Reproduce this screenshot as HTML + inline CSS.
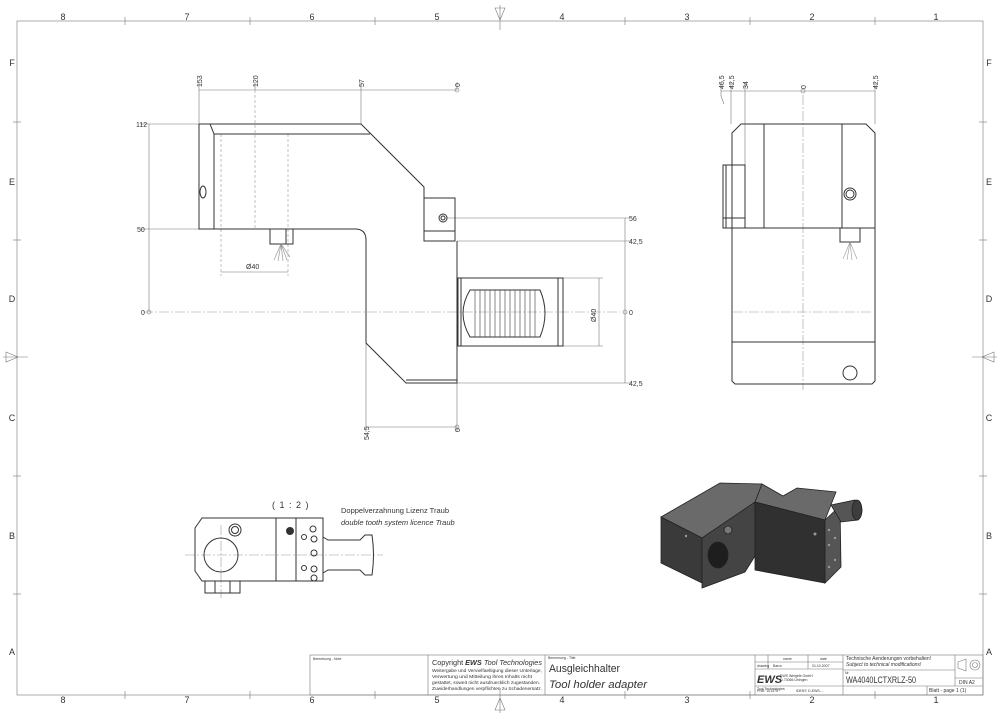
<!DOCTYPE html>
<html><head><meta charset="utf-8"><style>
html,body{margin:0;padding:0;background:#fff;}
svg{display:block;font-family:"Liberation Sans",sans-serif;}
.l{stroke:#333;stroke-width:1;fill:none}
.t{stroke:#777;stroke-width:.6;fill:none}
.c{stroke:#999;stroke-width:.6;fill:none;stroke-dasharray:10 2 2 2}
.d{stroke:#999;stroke-width:.6;fill:none;stroke-dasharray:3 2}
text{fill:#333}
.s{font-size:7px}
</style></head><body>
<svg width="1000" height="715" viewBox="0 0 1000 715">
<!-- frame -->
<rect x="17" y="21" width="966" height="674" class="t" stroke="#666"/>
<g class="t">
<line x1="125" y1="17" x2="125" y2="25"/><line x1="250" y1="17" x2="250" y2="25"/><line x1="375" y1="17" x2="375" y2="25"/><line x1="625" y1="17" x2="625" y2="25"/><line x1="750" y1="17" x2="750" y2="25"/><line x1="875" y1="17" x2="875" y2="25"/>
<line x1="125" y1="691" x2="125" y2="699"/><line x1="250" y1="691" x2="250" y2="699"/><line x1="375" y1="691" x2="375" y2="699"/><line x1="625" y1="691" x2="625" y2="699"/><line x1="750" y1="691" x2="750" y2="699"/><line x1="875" y1="691" x2="875" y2="699"/>
<line x1="13" y1="122" x2="21" y2="122"/><line x1="13" y1="240" x2="21" y2="240"/><line x1="13" y1="476" x2="21" y2="476"/><line x1="13" y1="594" x2="21" y2="594"/>
<line x1="979" y1="122" x2="987" y2="122"/><line x1="979" y1="240" x2="987" y2="240"/><line x1="979" y1="476" x2="987" y2="476"/><line x1="979" y1="594" x2="987" y2="594"/>
<path d="M500 5 V30 M495 8 L500 20 L505 8 Z"/><path d="M500 713 V688 M495 710 L500 698 L505 710 Z"/>
<path d="M3 357 H28 M6 352 L18 357 L6 362 Z"/><path d="M997 357 H972 M994 352 L982 357 L994 362 Z"/>
</g>
<g font-size="9" fill="#555" text-anchor="middle">
<text x="63" y="20">8</text><text x="187" y="20">7</text><text x="312" y="20">6</text><text x="437" y="20">5</text><text x="562" y="20">4</text><text x="687" y="20">3</text><text x="812" y="20">2</text><text x="936" y="20">1</text>
<text x="63" y="703">8</text><text x="187" y="703">7</text><text x="312" y="703">6</text><text x="437" y="703">5</text><text x="562" y="703">4</text><text x="687" y="703">3</text><text x="812" y="703">2</text><text x="936" y="703">1</text>
<text x="12" y="66">F</text><text x="12" y="185">E</text><text x="12" y="302">D</text><text x="12" y="421">C</text><text x="12" y="539">B</text><text x="12" y="655">A</text>
<text x="989" y="66">F</text><text x="989" y="185">E</text><text x="989" y="302">D</text><text x="989" y="421">C</text><text x="989" y="539">B</text><text x="989" y="655">A</text>
</g>

<!-- FRONT VIEW -->
<g class="t">
<line x1="199" y1="90" x2="457" y2="90"/>
<line x1="199" y1="82" x2="199" y2="124"/><line x1="255" y1="82" x2="255" y2="90"/><line x1="361" y1="82" x2="361" y2="124"/><line x1="457" y1="82" x2="457" y2="90"/>
<line x1="149" y1="124" x2="149" y2="312"/>
<line x1="140" y1="124" x2="210" y2="124"/><line x1="140" y1="229" x2="199" y2="229"/>
<line x1="625" y1="218" x2="625" y2="383"/>
<line x1="447" y1="218" x2="630" y2="218"/><line x1="457" y1="241" x2="630" y2="241"/><line x1="457" y1="383" x2="630" y2="383"/>
<line x1="563" y1="278" x2="603" y2="278"/><line x1="563" y1="346" x2="603" y2="346"/><line x1="599" y1="278" x2="599" y2="346"/>
<line x1="366" y1="343" x2="366" y2="432"/><line x1="457" y1="383" x2="457" y2="432"/><line x1="366" y1="427" x2="457" y2="427"/>
<line x1="221" y1="272" x2="288" y2="272"/>
</g>
<circle cx="457" cy="90" r="2" class="t"/><circle cx="149" cy="312" r="2" class="t"/><circle cx="625" cy="312" r="2" class="t"/><circle cx="457" cy="427" r="2" class="t"/>
<g class="d"><line x1="221" y1="134" x2="221" y2="276"/><line x1="288" y1="134" x2="288" y2="276"/><line x1="255" y1="90" x2="255" y2="230"/></g>
<line x1="143" y1="312" x2="620" y2="312" class="c"/>
<g class="l">
<path d="M199 124 H361 L424 187 V198 M199 124 V229 H355 Q366 229 366 240 V343 L406 383 H457 V241"/>
<path d="M210 124 L214 134 V229 M214 134 H370"/>
<rect x="424" y="198" width="31" height="43"/><line x1="424" y1="231" x2="455" y2="231"/>
<circle cx="443" cy="218" r="4"/><circle cx="443" cy="218" r="2"/>
<ellipse cx="203" cy="192" rx="3" ry="6"/>
<line x1="406" y1="380" x2="457" y2="380"/>
<rect x="270" y="229" width="23" height="15"/><line x1="286" y1="229" x2="286" y2="244"/>
<rect x="458" y="278" width="105" height="68"/><line x1="558" y1="278" x2="558" y2="346"/><line x1="461" y1="278" x2="461" y2="346"/>
<path d="M470 290 H540 Q550 313 540 337 H470 Q456 313 470 290 Z"/>
</g>
<g stroke="#555" stroke-width=".7">
<line x1="475" y1="290" x2="475" y2="337"/><line x1="480" y1="290" x2="480" y2="337"/><line x1="485" y1="290" x2="485" y2="337"/><line x1="490" y1="290" x2="490" y2="337"/><line x1="495" y1="290" x2="495" y2="337"/><line x1="500" y1="290" x2="500" y2="337"/><line x1="505" y1="290" x2="505" y2="337"/><line x1="510" y1="290" x2="510" y2="337"/><line x1="515" y1="290" x2="515" y2="337"/><line x1="520" y1="290" x2="520" y2="337"/><line x1="525" y1="290" x2="525" y2="337"/><line x1="530" y1="290" x2="530" y2="337"/><line x1="535" y1="290" x2="535" y2="337"/>
<path d="M281 244 L274 260 M281 244 L278 261 M281 244 L283 261 M281 244 L287 260 M281 244 L290 257" stroke="#999"/>
</g>
<g class="s">
<text transform="translate(202,87) rotate(-90)">153</text><text transform="translate(258,87) rotate(-90)">120</text><text transform="translate(364,87) rotate(-90)">57</text><text transform="translate(460,87) rotate(-90)">0</text>
<text x="136" y="127">112</text><text x="137" y="232">50</text><text x="141" y="315">0</text>
<text x="629" y="221">56</text><text x="629" y="244">42,5</text><text x="629" y="315">0</text><text x="629" y="386">42,5</text>
<text x="246" y="269">Ø40</text><text transform="translate(596,322) rotate(-90)">Ø40</text>
<text transform="translate(369,440) rotate(-90)">54,5</text><text transform="translate(460,432) rotate(-90)">0</text>
</g>

<!-- RIGHT VIEW -->
<g class="t">
<line x1="721" y1="91" x2="875" y2="91"/>
<line x1="721" y1="82" x2="721" y2="96"/><line x1="721" y1="96" x2="724" y2="104"/><line x1="731" y1="82" x2="731" y2="124"/><line x1="745" y1="82" x2="745" y2="165"/><line x1="875" y1="82" x2="875" y2="124"/>
</g>
<circle cx="803" cy="91" r="2" class="t"/>
<g class="s">
<text transform="translate(724,89) rotate(-90)">46,5</text><text transform="translate(734,89) rotate(-90)">42,5</text><text transform="translate(748,89) rotate(-90)">34</text><text transform="translate(806,89) rotate(-90)">0</text><text transform="translate(878,89) rotate(-90)">42,5</text>
</g>
<line x1="803" y1="95" x2="803" y2="390" class="c"/>
<line x1="733" y1="312" x2="873" y2="312" class="c"/>
<g class="l">
<path d="M741 124 H866 L875 133 V381 L872 384 H735 L732 381 V133 Z"/>
<line x1="764" y1="124" x2="764" y2="228"/><line x1="842" y1="124" x2="842" y2="228"/><line x1="732" y1="228" x2="875" y2="228"/>
<rect x="723" y="165" width="22" height="63"/><line x1="723" y1="218" x2="745" y2="218"/><line x1="726" y1="165" x2="726" y2="228"/>
<circle cx="850" cy="194" r="6"/><circle cx="850" cy="194" r="4"/>
<rect x="840" y="228" width="20" height="14"/>
<line x1="732" y1="342" x2="875" y2="342"/>
<circle cx="850" cy="373" r="7"/>
</g>
<path d="M850 242 L843 259 M850 242 L847 260 M850 242 L852 260 M850 242 L857 259" stroke="#999" stroke-width=".6"/>

<!-- BOTTOM LEFT VIEW -->
<text x="272" y="508" font-size="9" letter-spacing="1">( 1 : 2 )</text>
<text x="341" y="513" font-size="7.5">Doppelverzahnung Lizenz Traub</text>
<text x="341" y="525" font-size="7.5" font-style="italic">double tooth system licence Traub</text>
<line x1="185" y1="555" x2="383" y2="555" class="c"/>
<line x1="221" y1="525" x2="221" y2="598" class="c"/>
<g class="l">
<path d="M202 518 H323 V581 H202 L195 571 V528 Z"/>
<line x1="276" y1="518" x2="276" y2="581"/><line x1="296" y1="518" x2="296" y2="581"/>
<circle cx="221" cy="555" r="17"/>
<circle cx="235" cy="530" r="6"/><circle cx="235" cy="530" r="3.5"/>
<circle cx="290" cy="531" r="3.5" fill="#333"/>
<circle cx="313" cy="529" r="3"/><circle cx="304" cy="537" r="2.5"/><circle cx="314" cy="539" r="3"/><circle cx="314" cy="553" r="3"/><circle cx="304" cy="568" r="2.5"/><circle cx="314" cy="569" r="3"/><circle cx="314" cy="578" r="3"/>
<path d="M323 537 L328 540 H360 L365 535 H372 Q375 555 372 575 H365 L360 570 H328 L323 573"/>
<rect x="205" y="581" width="35" height="12"/><line x1="215" y1="581" x2="215" y2="593"/><line x1="230" y1="581" x2="230" y2="593"/>
</g>

<!-- ISO VIEW -->
<g stroke="#222" stroke-width=".8">
<polygon points="661,517 720,483 762,484 760,505 702,538" fill="#6a6a6a"/>
<polygon points="762,484 783,496 797,488 836,492 825,520 755,502" fill="#6a6a6a"/>
<polygon points="661,517 702,538 702,583 661,563" fill="#3a3a3a"/>
<polygon points="702,538 755,502 755,556 745,572 702,588" fill="#444"/>
<polygon points="755,502 825,520 825,583 755,570" fill="#303030"/>
<polygon points="825,520 840,506 841,567 825,583" fill="#555"/>
<polygon points="831,505 855,500 862,510 858,520 841,522" fill="#555"/>
<ellipse cx="857" cy="510" rx="5" ry="10" fill="#3d3d3d"/>
<ellipse cx="718" cy="555" rx="10" ry="13" fill="#1e1e1e"/>
<circle cx="728" cy="530" r="4" fill="#777"/>
</g>
<g fill="#999"><circle cx="829" cy="530" r="1.2"/><circle cx="835" cy="538" r="1.2"/><circle cx="829" cy="545" r="1.2"/><circle cx="835" cy="560" r="1.2"/><circle cx="829" cy="567" r="1.2"/><circle cx="686" cy="536" r="1.2"/><circle cx="815" cy="534" r="1.5"/></g>

<!-- TITLE BLOCK -->
<g class="t" stroke="#444">
<rect x="310" y="655" width="673" height="40"/>
<line x1="428" y1="655" x2="428" y2="695"/><line x1="545" y1="655" x2="545" y2="695"/><line x1="755" y1="655" x2="755" y2="695"/><line x1="843" y1="655" x2="843" y2="695"/><line x1="955" y1="655" x2="955" y2="686"/>
<line x1="755" y1="662" x2="843" y2="662"/><line x1="755" y1="669" x2="843" y2="669"/>
<line x1="768" y1="655" x2="768" y2="669"/><line x1="808" y1="655" x2="808" y2="669"/>
<line x1="843" y1="670" x2="955" y2="670"/>
<line x1="755" y1="686" x2="983" y2="686"/><line x1="927" y1="686" x2="927" y2="695"/>
<line x1="955" y1="678" x2="983" y2="678"/>
<path d="M958 662 L966 659 V671 L958 668 Z"/>
<circle cx="975" cy="665" r="5"/><circle cx="975" cy="665" r="2.5"/>
</g>
<g font-size="3.5" fill="#555"><text x="313" y="660">Bemerkung - Note</text><text x="548" y="659">Benennung - Title</text><text x="783" y="660">name</text><text x="820" y="660">date</text><text x="757" y="667">drawing</text><text x="773" y="667">Barra</text><text x="812" y="667">01.10.2007</text><text x="780" y="677">EWS Weigele GmbH</text><text x="780" y="681">D-73066 Uhingen</text><text x="757" y="692">PNR: 101475</text><text x="796" y="692">IDENT: D-EWS-...</text><text x="845" y="674">Nr.</text></g>
<text x="432" y="665" font-size="7" textLength="110" lengthAdjust="spacingAndGlyphs">Copyright <tspan font-weight="bold" font-style="italic">EWS</tspan><tspan font-style="italic"> Tool Technologies</tspan></text>
<g font-size="4.8" fill="#444"><text x="432" y="672" textLength="110" lengthAdjust="spacingAndGlyphs">Weitergabe und Vervielfaeltigung dieser Unterlage,</text><text x="432" y="678" textLength="100" lengthAdjust="spacingAndGlyphs">Verwertung und Mitteilung ihres Inhalts nicht</text><text x="432" y="684" textLength="108" lengthAdjust="spacingAndGlyphs">gestattet, soweit nicht ausdruecklich zugestanden.</text><text x="432" y="690" textLength="110" lengthAdjust="spacingAndGlyphs">Zuwiderhandlungen verpflichten zu Schadenersatz.</text></g>
<text x="549" y="672" font-size="11" textLength="71" lengthAdjust="spacingAndGlyphs">Ausgleichhalter</text>
<text x="549" y="688" font-size="11" font-style="italic" textLength="98" lengthAdjust="spacingAndGlyphs">Tool holder adapter</text>
<text x="757" y="683" font-size="11" font-weight="bold" font-style="italic">EWS</text>
<text x="757" y="690" font-size="3.5">Tool Technologies</text>
<g font-size="5" fill="#444"><text x="846" y="660">Technische Aenderungen vorbehalten!</text><text x="846" y="666" font-style="italic">Subject to technical modifications!</text><text x="929" y="692">Blatt - page  1 (1)</text><text x="959" y="684">DIN A2</text></g>
<text x="846" y="683" font-size="9.5" textLength="70" lengthAdjust="spacingAndGlyphs">WA4040LCTXRLZ-50</text>
</svg>
</body></html>
